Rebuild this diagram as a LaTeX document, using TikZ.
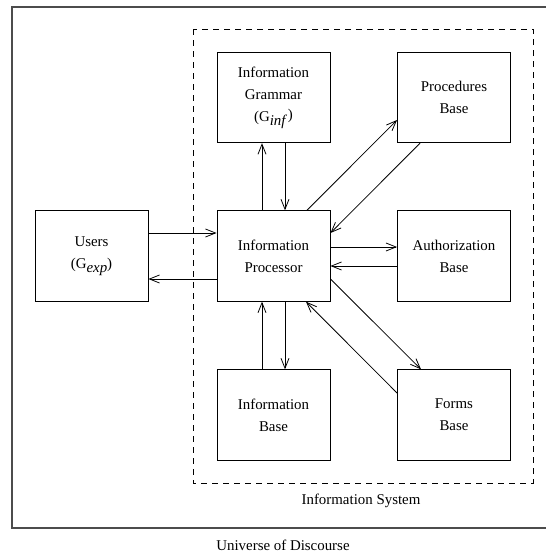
\documentclass[tikz,border=0pt]{standalone}
\usepackage{fontspec}
\setmainfont{Liberation Serif}
\usetikzlibrary{arrows.meta}
\begin{document}
\begin{tikzpicture}[x=1pt,y=-1pt,
  box/.style={draw, line width=0.9pt, minimum width=113pt, minimum height=90.5pt, inner sep=0pt, align=center, font=\fontsize{14.9}{22}\selectfont},
  conn/.style={line width=0.8pt, -{Straight Barb[length=10pt,width=8pt]}},
  lbl/.style={font=\fontsize{14.9}{18}\selectfont, inner sep=0pt}]
\useasboundingbox (0,0) rectangle (546,552);
\draw[line width=1.1pt, draw=black!70] (12,7) rectangle (550,528);
\draw[line width=0.9pt, dash pattern=on 6pt off 5pt] (193,29) rectangle (533,483);
\node[box] (gram) at (273.5,97.5) {Information\\Grammar\\(G\raisebox{-0.6ex}{\itshape inf}\,\raisebox{0.3ex}{)}};
\node[box] (proc) at (454,97.5) {Procedures\\Base};
\node[box] (users) at (91.5,256) {Users\\(G\raisebox{-0.6ex}{\itshape exp})};
\node[box] (ip) at (273.5,256) {Information\\Processor};
\node[box] (auth) at (454,256) {Authorization\\Base};
\node[box] (ib) at (273.5,415) {Information\\Base};
\node[box] (forms) at (454,415) {Forms\\Base};
\node[lbl] (is) at (361,501) {Information System};
\node[lbl] (ud) at (283,545) {Universe of Discourse};
\draw[conn] ([yshift=23pt]users.east) -- ([yshift=23pt]ip.west);
\draw[conn] ([yshift=-23pt]ip.west) -- ([yshift=-23pt]users.east);
\draw[conn] ([xshift=-11.5pt]ip.north) -- ([xshift=-11.5pt]gram.south);
\draw[conn] ([xshift=11.5pt]gram.south) -- ([xshift=11.5pt]ip.north);
\draw[conn] ([xshift=33.5pt]ip.north) -- ([yshift=-22.5pt]proc.west);
\draw[conn] ([xshift=-34pt]proc.south) -- ([yshift=23pt]ip.east);
\draw[conn] ([yshift=9pt]ip.east) -- ([yshift=9pt]auth.west);
\draw[conn] ([yshift=-10pt]auth.west) -- ([yshift=-10pt]ip.east);
\draw[conn] ([xshift=11.5pt]ip.south) -- ([xshift=11.5pt]ib.north);
\draw[conn] ([xshift=-11.5pt]ib.north) -- ([xshift=-11.5pt]ip.south);
\draw[conn] ([yshift=-23pt]ip.east) -- ([xshift=-33pt]forms.north);
\draw[conn] ([yshift=22pt]forms.west) -- ([xshift=32.5pt]ip.south);
\end{tikzpicture}
\end{document}
